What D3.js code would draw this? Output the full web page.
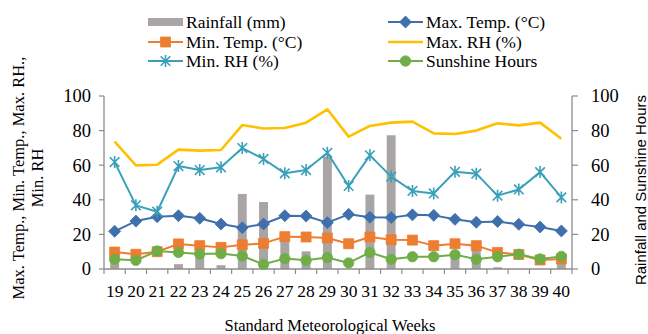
<!DOCTYPE html>
<html>
<head>
<meta charset="utf-8">
<script src="https://cdn.jsdelivr.net/npm/d3@7/dist/d3.min.js"></script>
<style>
  html, body { margin: 0; padding: 0; background: #fff; }
  svg { display: block; }
</style>
</head>
<body>
<svg id="chart" width="648" height="334"></svg>
<script>
// Weekly weather observations, standard meteorological weeks 19–40
const weeks = [19,20,21,22,23,24,25,26,27,28,29,30,31,32,33,34,35,36,37,38,39,40];
const rainfall = [7,0,0,2.8,10,2.2,43.4,38.7,18,10.2,64.9,0,43,77.3,0,0,9,13,1,0,0,7];
const maxTemp  = [21.8,27.7,30.2,30.8,29.3,26,23.9,26,30.8,30.6,26.8,31.6,29.9,29.7,31.3,31,28.7,27,27.5,25.8,24.3,22];
const minTemp  = [9.8,8.5,10,14.5,13.5,12.5,14,14.8,18.7,18.5,17.9,14.6,18.5,16.9,16.7,13.5,14.6,13.5,9.6,8.4,5.2,5.8];
const maxRH    = [73.6,59.9,60.3,69,68.4,68.8,83.2,81.2,81.5,84.6,92.3,76.5,82.7,84.6,85.2,78.4,78,80,84.2,83,84.6,75.3];
const minRH    = [61.8,36.8,33.1,59.5,57.2,58.8,69.9,63.6,55.3,57.2,67.2,48,65.7,53.4,45.1,43.7,56.2,55.1,42.4,46,56,41.4];
const sunshine = [5.6,5,10.4,9.6,8.7,8.9,7.5,2.7,6,5,6.6,3.5,9.6,5.6,7.1,7.1,8.3,5.6,7.1,8.5,5.8,7.3];
const yTicks = [0,20,40,60,80,100];

const colors = {
  rain: "#a9a5a5",
  maxT: "#3f6fad",
  minT: "#ed7d31",
  maxRH: "#ffc000",
  minRH: "#3aa0ba",
  sun: "#70ad47",
  axis: "#8c8c8c"
};
const SERIF = '"Liberation Serif", "Times New Roman", serif';
const SANS = '"Liberation Sans", Arial, sans-serif';

const svg = d3.select("#chart");
const plotL = 104, plotR = 572, plotT = 96, plotB = 269;

const x = d3.scaleBand().domain(weeks).range([plotL, plotR]).paddingInner(0).paddingOuter(0);
const yL = d3.scaleLinear().domain([0, 100]).range([plotB, plotT]);
const yR = d3.scaleLinear().domain([0, 100]).range([plotB, plotT]);
const cx = w => x(w) + x.bandwidth() / 2;

// Rainfall bars (right axis)
const barW = x.bandwidth() * 0.42;
svg.append("g").selectAll("rect").data(weeks).join("rect")
  .attr("x", (w) => cx(w) - barW / 2)
  .attr("y", (w, i) => yR(rainfall[i]))
  .attr("width", barW)
  .attr("height", (w, i) => yR(0) - yR(rainfall[i]))
  .attr("fill", colors.rain);

// Axes
const axisG = svg.append("g");
axisG.append("line").attr("x1", plotL).attr("x2", plotR).attr("y1", yL(0)).attr("y2", yL(0))
  .attr("stroke", colors.axis).attr("stroke-width", 1.3);
axisG.append("line").attr("x1", plotL).attr("x2", plotL).attr("y1", yL(0)).attr("y2", yL(100))
  .attr("stroke", colors.axis).attr("stroke-width", 1.3);
axisG.append("line").attr("x1", plotR).attr("x2", plotR).attr("y1", yR(0)).attr("y2", yR(100))
  .attr("stroke", colors.axis).attr("stroke-width", 1.3);

// category boundary ticks
const bounds = weeks.map(w => x(w)).concat([x.range()[1]]);
axisG.selectAll(".xt").data(bounds).join("line")
  .attr("x1", d => d).attr("x2", d => d)
  .attr("y1", yL(0)).attr("y2", yL(0) + 5)
  .attr("stroke", colors.axis).attr("stroke-width", 1.2);

// left ticks
axisG.selectAll(".ylt").data(yTicks).join("line")
  .attr("x1", plotL - 5).attr("x2", plotL)
  .attr("y1", d => yL(d)).attr("y2", d => yL(d))
  .attr("stroke", colors.axis).attr("stroke-width", 1.2);
axisG.selectAll(".yll").data(yTicks).join("text")
  .attr("x", plotL - 13).attr("y", d => yL(d))
  .attr("dy", "0.35em").attr("text-anchor", "end")
  .style("font-family", SERIF).attr("font-size", 18.5).text(d => d);

// right ticks
axisG.selectAll(".yrt").data(yTicks).join("line")
  .attr("x1", plotR).attr("x2", plotR + 6)
  .attr("y1", d => yR(d)).attr("y2", d => yR(d))
  .attr("stroke", colors.axis).attr("stroke-width", 1.2);
axisG.selectAll(".yrl").data(yTicks).join("text")
  .attr("x", plotR + 19).attr("y", d => yR(d))
  .attr("dy", "0.35em").attr("text-anchor", "start")
  .style("font-family", SERIF).attr("font-size", 18.5).text(d => d);

// week labels
axisG.selectAll(".xl").data(weeks).join("text")
  .attr("x", d => cx(d)).attr("y", 297)
  .attr("text-anchor", "middle")
  .style("font-family", SERIF).attr("font-size", 17.5)
  .text(d => d);

// axis titles
svg.append("text").attr("x", 330).attr("y", 331).attr("text-anchor", "middle")
  .style("font-family", SERIF).attr("font-size", 16.5).text("Standard Meteorological Weeks");

const lt = svg.append("text").attr("transform", "translate(24,178) rotate(-90)")
  .attr("text-anchor", "middle").style("font-family", SERIF).attr("font-size", 16.5);
lt.append("tspan").attr("x", 0).attr("dy", 0).text("Max. Temp., Min. Temp., Max. RH.,");
lt.append("tspan").attr("x", 0).attr("dy", 19).text("Min. RH");

svg.append("text").attr("transform", "translate(646,190) rotate(-90)")
  .attr("text-anchor", "middle").attr("font-size", 15)
  .style("font-family", SANS)
  .text("Rainfall and Sunshine Hours");

// Marker shapes
const diamondPath = (r => `M0,${-r}L${r},0L0,${r}L${-r},0Z`)(6);
const squarePath = d3.symbol().type(d3.symbolSquare).size(100)();
const circlePath = d3.symbol().type(d3.symbolCircle).size(85)();
function starPath(r) {
  const a = r * 0.8;
  return `M${-a},${-a}L${a},${a}M${-a},${a}L${a},${-a}M0,${-r}L0,${r}`;
}

function series(values, yScale, color, width, marker) {
  const g = svg.append("g");
  const line = d3.line().x((d, i) => cx(weeks[i])).y(d => yScale(d));
  g.append("path").datum(values).attr("d", line)
    .attr("fill", "none").attr("stroke", color).attr("stroke-width", width)
    .attr("stroke-linejoin", "round");
  if (marker === "star") {
    g.selectAll("path.m").data(values).join("path").attr("class", "m")
      .attr("transform", (d, i) => `translate(${cx(weeks[i])},${yScale(d)})`)
      .attr("d", starPath(6)).attr("fill", "none")
      .attr("stroke", color).attr("stroke-width", 1.6);
  } else if (marker) {
    g.selectAll("path.m").data(values).join("path").attr("class", "m")
      .attr("transform", (d, i) => `translate(${cx(weeks[i])},${yScale(d)})`)
      .attr("d", marker).attr("fill", color).attr("stroke", color).attr("stroke-width", 0.8);
  }
}

series(maxTemp, yL, colors.maxT, 2, diamondPath);
series(minTemp, yL, colors.minT, 2, squarePath);
series(maxRH, yL, colors.maxRH, 2.6, null);
series(minRH, yL, colors.minRH, 2, "star");
series(sunshine, yR, colors.sun, 2, circlePath);

// Legend
const legendItems = [
  { name: "Rainfall (mm)", color: colors.rain, kind: "bar", col: 0, row: 0 },
  { name: "Min. Temp. (°C)", color: colors.minT, kind: "square", col: 0, row: 1 },
  { name: "Min. RH (%)", color: colors.minRH, kind: "star", col: 0, row: 2 },
  { name: "Max. Temp. (°C)", color: colors.maxT, kind: "diamond", col: 1, row: 0 },
  { name: "Max. RH (%)", color: colors.maxRH, kind: "line", col: 1, row: 1 },
  { name: "Sunshine Hours", color: colors.sun, kind: "circle", col: 1, row: 2 }
];
const colX = [148, 388], rowY = [22, 42, 61];
const lg = svg.append("g");
legendItems.forEach(it => {
  const gx = colX[it.col], gy = rowY[it.row];
  const g = lg.append("g").attr("transform", `translate(${gx},${gy})`);
  if (it.kind === "bar") {
    g.append("rect").attr("x", 0).attr("y", -4).attr("width", 35).attr("height", 8).attr("fill", it.color);
  } else {
    g.append("line").attr("x1", 0).attr("x2", 35).attr("y1", 0).attr("y2", 0)
      .attr("stroke", it.color).attr("stroke-width", it.kind === "line" ? 2.6 : 2);
    if (it.kind === "star") {
      g.append("path").attr("transform", "translate(17.5,0)").attr("d", starPath(6))
        .attr("fill", "none").attr("stroke", it.color).attr("stroke-width", 1.6);
    } else if (it.kind !== "line") {
      const p = it.kind === "square" ? squarePath : it.kind === "diamond" ? diamondPath : circlePath;
      g.append("path").attr("transform", "translate(17.5,0)").attr("d", p)
        .attr("fill", it.color).attr("stroke", it.color).attr("stroke-width", 0.8);
    }
  }
  g.append("text").attr("x", 38).attr("y", 0).attr("dy", "0.35em")
    .style("font-family", SERIF).attr("font-size", 17.5).text(it.name);
});
</script>
</body>
</html>
